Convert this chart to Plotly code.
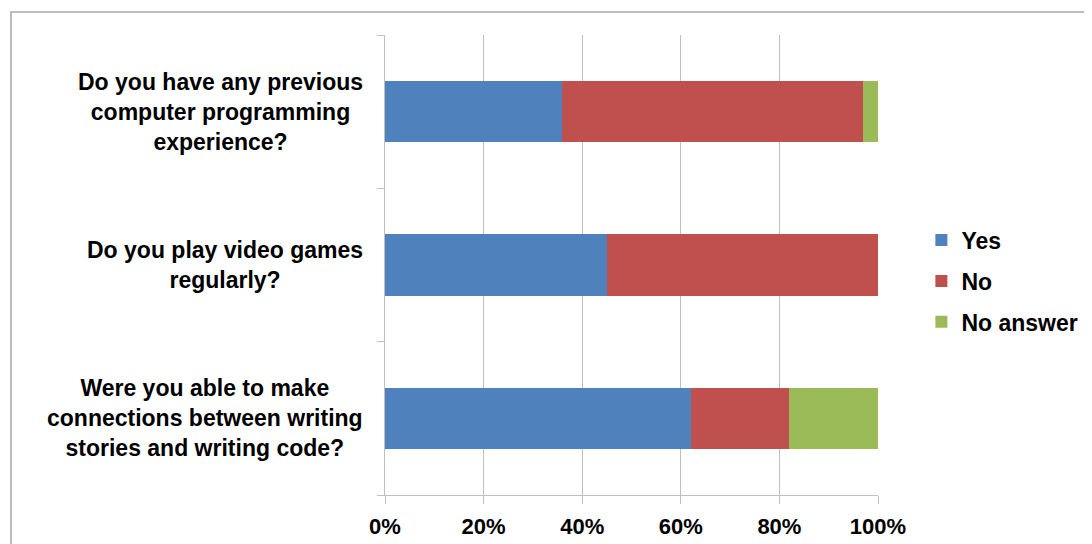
import plotly.graph_objects as go

questions = [
    "Do you have any previous<br>computer programming<br>experience?",
    "Do you play video games<br>regularly?",
    "Were you able to make<br>connections between writing<br>stories and writing code?",
]
yes = [0.36, 0.45, 0.62]
no = [0.61, 0.55, 0.20]
no_answer = [0.03, 0.00, 0.18]

series = [
    ("Yes", yes, "#4F81BD"),
    ("No", no, "#C0504D"),
    ("No answer", no_answer, "#9BBB59"),
]

FONT = "Liberation Sans, Arial, sans-serif"

fig = go.Figure()
for name, vals, color in series:
    fig.add_trace(go.Bar(
        name=name, x=vals, y=questions, orientation="h",
        marker=dict(color=color, line=dict(width=0)),
        legendgroup=name,
    ))

annotations = []
for q in questions:
    annotations.append(dict(
        x=-0.04, xref="paper", y=q, yref="y", text="<b>%s</b>" % q,
        showarrow=False, xanchor="right", yanchor="middle", align="center",
        font=dict(family=FONT, size=23, color="#000000"),
    ))

fig.update_layout(
    width=1092, height=544,
    margin=dict(l=377, r=222, t=27, b=57),
    paper_bgcolor="white", plot_bgcolor="white",
    barmode="stack", bargap=0.6,
    showlegend=True,
    legend=dict(
        x=1.088, xanchor="left", y=0.465, yanchor="middle",
        font=dict(family=FONT, size=23, color="#000000", weight="bold"),
        traceorder="grouped", tracegroupgap=8,
        itemwidth=30,
    ),
    xaxis=dict(
        range=[0, 1], dtick=0.2, tick0=0, tickformat=".0%",
        showgrid=True, gridcolor="#BFBFBF", gridwidth=1,
        showline=True, linecolor="#BFBFBF", linewidth=1,
        ticks="outside", ticklen=8, tickcolor="#BFBFBF",
        ticklabelstandoff=4,
        tickfont=dict(family=FONT, size=22, color="#000000", weight="bold"),
        zeroline=False, fixedrange=True,
    ),
    yaxis=dict(
        type="category", categoryorder="array", categoryarray=questions[::-1],
        showticklabels=False, tickson="boundaries",
        ticks="outside", ticklen=7, tickcolor="#BFBFBF",
        showline=True, linecolor="#BFBFBF", linewidth=1,
        showgrid=False, zeroline=False,
    ),
    annotations=annotations,
    shapes=[dict(
        type="rect", xref="paper", yref="paper",
        x0=(3 - 377) / 493, x1=(1100 - 377) / 493,
        y0=-(560 - 487) / 460, y1=1 + (27 - 4) / 460,
        line=dict(color="#A6A6A6", width=1.5), fillcolor="rgba(0,0,0,0)",
        layer="below",
    )],
)

fig.write_html("out.html")
